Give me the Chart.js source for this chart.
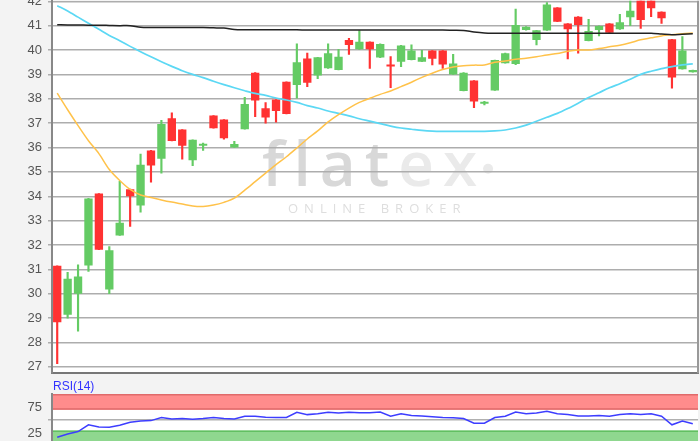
<!DOCTYPE html>
<html>
<head>
  <title>flatex chart</title>
  <style>
    html, body { margin: 0; padding: 0; }
    body { width: 700px; height: 441px; overflow: hidden; background: #f3f3f3; position: relative; }
    #priceBox { position: absolute; left: 0; top: -13px; width: 700px; height: 400px; }
    #rsiBox { position: absolute; left: 0; top: 376px; width: 700px; height: 84px; }
  </style>
</head>
<body>
  <div id="priceBox"><canvas id="priceChart"></canvas></div>
  <div id="rsiBox"><canvas id="rsiChart"></canvas></div>
  <script src="https://cdn.jsdelivr.net/npm/chart.js"></script>
  <script>
    // candles
    const opens = [31.15, 29.14, 30.0, 31.16, 34.11, 30.17, 32.39, 34.29, 33.62, 35.88,
      35.54, 37.2, 36.74, 35.48, 36.07, 37.31, 37.15, 36.0, 36.75, 39.07,
      37.61, 37.97, 38.7, 38.57, 39.65, 38.95, 39.25, 39.18, 40.41, 40.03,
      40.34, 39.69, 39.39, 39.52, 39.59, 39.52, 39.98, 39.98, 39.0, 38.32,
      38.75, 37.8, 38.34, 39.46, 39.43, 40.82, 40.41, 40.8, 41.74, 41.09,
      41.37, 40.37, 40.82, 41.09, 40.85, 41.34, 42.3, 42.2, 41.57, 40.44,
      39.21, 39.09];
    const closes = [28.83, 30.62, 30.71, 33.91, 31.81, 31.78, 32.91, 34.0, 35.29, 35.26,
      36.96, 36.27, 36.07, 36.32, 36.09, 36.79, 36.38, 36.14, 37.79, 37.93,
      37.23, 37.5, 37.38, 39.5, 38.66, 39.7, 39.87, 39.72, 40.21, 40.34,
      40.03, 40.25, 39.32, 40.19, 39.98, 39.7, 39.64, 39.41, 39.45, 39.07,
      37.89, 37.84, 39.59, 39.87, 41.03, 40.96, 40.81, 41.87, 41.16, 40.85,
      41.03, 40.78, 40.99, 40.71, 41.14, 41.61, 41.23, 41.71, 41.3, 38.87,
      39.98, 39.18];
    const highs = [31.15, 30.88, 31.19, 33.91, 34.11, 31.94, 34.61, 34.29, 35.73, 35.88,
      37.12, 37.42, 36.74, 36.32, 36.18, 37.31, 37.15, 36.25, 38.06, 39.07,
      37.84, 37.97, 38.7, 40.25, 39.87, 39.7, 40.25, 40.03, 40.48, 40.8,
      40.34, 40.25, 39.73, 40.19, 40.21, 39.99, 39.98, 39.98, 39.82, 39.07,
      38.75, 37.9, 39.59, 39.87, 41.68, 40.96, 40.81, 41.95, 41.74, 41.09,
      41.37, 41.26, 40.99, 41.09, 41.46, 42.2, 42.4, 42.3, 41.57, 40.44,
      40.55, 39.18];
    const lows = [27.13, 29.0, 28.46, 30.92, 31.81, 30.0, 32.39, 32.76, 33.35, 34.58,
      34.95, 36.27, 35.52, 35.26, 35.88, 36.79, 36.34, 36.0, 36.75, 37.27,
      37.0, 37.04, 37.38, 38.02, 38.5, 38.82, 39.25, 39.18, 39.82, 40.03,
      39.25, 39.69, 38.46, 39.32, 39.59, 39.52, 39.39, 39.25, 39.0, 38.32,
      37.64, 37.75, 38.34, 39.46, 39.4, 40.82, 40.21, 40.8, 41.16, 39.64,
      39.87, 40.37, 40.58, 40.71, 40.85, 41.0, 40.89, 41.37, 41.09, 38.43,
      39.21, 39.09];

    // moving averages
    const maShort = [38.23, 37.55, 36.9, 36.28, 35.75, 35.1, 34.65, 34.28, 34.05, 33.95,
      33.85, 33.76, 33.68, 33.6, 33.58, 33.64, 33.75, 33.92, 34.25, 34.6,
      34.95, 35.3, 35.62, 35.98, 36.35, 36.68, 37.05, 37.35, 37.62, 37.85,
      38.02, 38.18, 38.32, 38.5, 38.68, 38.88, 39.05, 39.2, 39.3, 39.36,
      39.38, 39.39, 39.5, 39.55, 39.62, 39.66, 39.72, 39.8, 39.86, 39.95,
      40.0, 40.0, 40.06, 40.13, 40.2, 40.3, 40.42, 40.5, 40.58, 40.63,
      40.67, 40.7];
    const maMid = [41.82, 41.6, 41.35, 41.1, 40.85, 40.6, 40.38, 40.15, 39.93, 39.72,
      39.52, 39.33, 39.15, 39.0, 38.87, 38.72, 38.58, 38.45, 38.33, 38.22,
      38.14, 38.03, 37.95, 37.85, 37.72, 37.62, 37.5, 37.4, 37.3, 37.18,
      37.08, 36.98, 36.88, 36.8, 36.75, 36.7, 36.67, 36.66, 36.66, 36.66,
      36.66, 36.66, 36.68, 36.72, 36.8, 36.92, 37.08, 37.24, 37.4, 37.6,
      37.82, 38.05, 38.25, 38.45, 38.62, 38.8, 39.0, 39.13, 39.24, 39.32,
      39.39, 39.43];
    const maLong = [41.04, 41.03, 41.03, 41.02, 41.02, 41.01, 41.0, 41.0, 40.93, 40.92,
      40.92, 40.92, 40.92, 40.92, 40.92, 40.91, 40.9, 40.84, 40.83, 40.83,
      40.83, 40.83, 40.83, 40.83, 40.82, 40.82, 40.82, 40.82, 40.82, 40.82,
      40.82, 40.82, 40.82, 40.82, 40.82, 40.82, 40.82, 40.82, 40.81, 40.8,
      40.74, 40.7, 40.69, 40.69, 40.69, 40.69, 40.69, 40.69, 40.69, 40.69,
      40.69, 40.69, 40.69, 40.69, 40.69, 40.69, 40.69, 40.69, 40.66, 40.63,
      40.65, 40.67];

    const rsi = [17, 23.5, 28, 41, 37, 36.5, 40, 46, 48.5, 49,
      55, 52, 53, 51.5, 53, 55, 53, 52, 57.4, 57.4,
      55.5, 55, 55, 65, 60.5, 62, 65, 63.5, 65, 64,
      64, 65.3, 57.4, 62, 59, 58, 56.5, 55, 54.5, 53,
      44, 44, 55, 57.4, 65.3, 62, 63.5, 67, 62, 60.5,
      58, 58, 59, 57.5, 60.5, 62, 60.5, 62, 57.4, 41,
      48.4, 43];

    const rsiTicks = [25, 50, 75];
    const rsiBands = { upper: 70, lower: 30 };

    const labels = opens.map((o, i) => i);
    const GREEN = '#64cb64';
    const RED = '#ff3232';
    const candleColors = opens.map((o, i) => closes[i] >= o ? GREEN : RED);
    const labelFont = { family: "'Liberation Sans', Arial, sans-serif", size: 13 };

    // white plot area + flatex watermark under the grid
    const plotBackground = {
      id: 'plotBackground',
      beforeDraw(chart) {
        const { ctx, chartArea: a } = chart;
        ctx.save();
        ctx.fillStyle = '#fff';
        ctx.fillRect(a.left, a.top, a.width, a.height);
        if (chart.canvas.id === 'priceChart') {
          ctx.textBaseline = 'alphabetic';
          ctx.textAlign = 'left';
          ctx.font = "600 62px 'Open Sans', sans-serif";
          ctx.letterSpacing = '9px';
          ctx.fillStyle = '#d8d8d8';
          const x0 = 262, y0 = a.top + 185;
          ctx.fillText('flat', x0, y0);
          const w = ctx.measureText('flat').width;
          ctx.fillStyle = '#eaeaea';
          ctx.fillText('ex', x0 + w, y0);
          const w2 = ctx.measureText('ex').width;
          ctx.beginPath();
          ctx.arc(x0 + w + w2 + 2, y0 - 17, 5, 0, Math.PI * 2);
          ctx.fill();
          ctx.font = "13px 'Open Sans', sans-serif";
          ctx.letterSpacing = '6px';
          ctx.fillStyle = '#dedede';
          ctx.fillText('ONLINE BROKER', 288, a.top + 212);
        }
        ctx.restore();
      }
    };

    const frame = {
      id: 'frame',
      afterDraw(chart) {
        const { ctx, chartArea: a } = chart;
        ctx.save();
        ctx.strokeStyle = '#999';
        ctx.lineWidth = 2;
        ctx.beginPath();
        ctx.moveTo(a.right, a.top);
        ctx.lineTo(a.right, a.bottom);
        ctx.stroke();
        ctx.restore();
      }
    };

    new Chart(document.getElementById('priceChart'), {
      type: 'bar',
      data: {
        labels: labels,
        datasets: [
          { type: 'line', data: maLong, borderColor: '#222', borderWidth: 1.5, pointRadius: 0, tension: 0.3, order: 1 },
          { type: 'line', data: maShort, borderColor: '#ffc24a', borderWidth: 1.5, pointRadius: 0, tension: 0.3, order: 1 },
          { type: 'line', data: maMid, borderColor: '#5cd8f4', borderWidth: 1.7, pointRadius: 0, tension: 0.3, order: 1 },
          {
            data: opens.map((o, i) => [o, closes[i]]),
            backgroundColor: candleColors,
            barPercentage: 0.8, categoryPercentage: 1, minBarLength: 2,
            grouped: false, order: 2
          },
          {
            data: lows.map((l, i) => [l, highs[i]]),
            backgroundColor: candleColors,
            barThickness: 1.5,
            grouped: false, order: 3
          }
        ]
      },
      options: {
        responsive: true,
        maintainAspectRatio: false,
        animation: false,
        layout: { padding: { top: 10, bottom: 10, left: 0, right: 2 } },
        plugins: { legend: { display: false }, tooltip: { enabled: false } },
        scales: {
          x: {
            offset: true,
            ticks: { display: false },
            grid: { display: false, drawTicks: false },
            border: { display: true, color: '#777', width: 2 }
          },
          y: {
            min: 26.74,
            max: 42.02,
            afterFit(scale) { scale.width = 52; },
            ticks: { stepSize: 1, includeBounds: false, color: '#555', font: labelFont, padding: 6 },
            grid: { color: '#adadad', lineWidth: 1.5, tickLength: 4 },
            border: { color: '#888', width: 2 }
          }
        }
      },
      plugins: [plotBackground, frame]
    });

    // RSI panel: bands and caption
    const rsiDecor = {
      id: 'rsiDecor',
      beforeDraw(chart) {
        const { ctx, chartArea: a, scales: { y } } = chart;
        const yTop = y.getPixelForValue(100);
        const yUp = y.getPixelForValue(rsiBands.upper);
        const yLow = y.getPixelForValue(rsiBands.lower);
        const yBot = y.getPixelForValue(0);
        ctx.save();
        ctx.fillStyle = '#ff8c8c';
        ctx.fillRect(a.left, yTop, a.width, yUp - yTop);
        ctx.fillStyle = '#8fd78f';
        ctx.fillRect(a.left, yLow, a.width, yBot - yLow);
        ctx.lineWidth = 1.5;
        ctx.strokeStyle = '#e06a6a';
        ctx.beginPath();
        ctx.moveTo(a.left, yTop + 0.75); ctx.lineTo(a.right, yTop + 0.75);
        ctx.moveTo(a.left, yUp - 0.75); ctx.lineTo(a.right, yUp - 0.75);
        ctx.stroke();
        ctx.strokeStyle = '#62bf62';
        ctx.beginPath();
        ctx.moveTo(a.left, yLow + 0.75); ctx.lineTo(a.right, yLow + 0.75);
        ctx.stroke();
        ctx.restore();
      },
      afterDraw(chart) {
        const { ctx, chartArea: a } = chart;
        ctx.save();
        ctx.font = "12px 'Liberation Sans', Arial, sans-serif";
        ctx.fillStyle = '#3333ff';
        ctx.textBaseline = 'bottom';
        ctx.fillText('RSI(14)', a.left + 1, a.top - 1);
        ctx.restore();
      }
    };

    new Chart(document.getElementById('rsiChart'), {
      type: 'line',
      data: {
        labels: labels,
        datasets: [
          { data: rsi, borderColor: '#3d3dff', borderWidth: 1.5, pointRadius: 0, tension: 0 }
        ]
      },
      options: {
        responsive: true,
        maintainAspectRatio: false,
        animation: false,
        layout: { padding: { top: 18, bottom: 10, left: 0, right: 2 } },
        plugins: { legend: { display: false }, tooltip: { enabled: false } },
        scales: {
          x: { display: false, offset: true },
          y: {
            min: 0,
            max: 100,
            afterFit(scale) { scale.width = 52; },
            afterBuildTicks(scale) { scale.ticks = rsiTicks.map(v => ({ value: v })); },
            ticks: {
              color: '#555', font: labelFont, padding: 6,
              callback: v => (v === 50 ? '' : v)
            },
            grid: {
              color: ctx => (ctx.tick && ctx.tick.value === 50 ? '#b0b0b0' : 'rgba(0,0,0,0)'),
              lineWidth: 1.5, tickLength: 4
            },
            border: { color: '#888', width: 2 }
          }
        }
      },
      plugins: [plotBackground, rsiDecor]
    });
  </script>
</body>
</html>
